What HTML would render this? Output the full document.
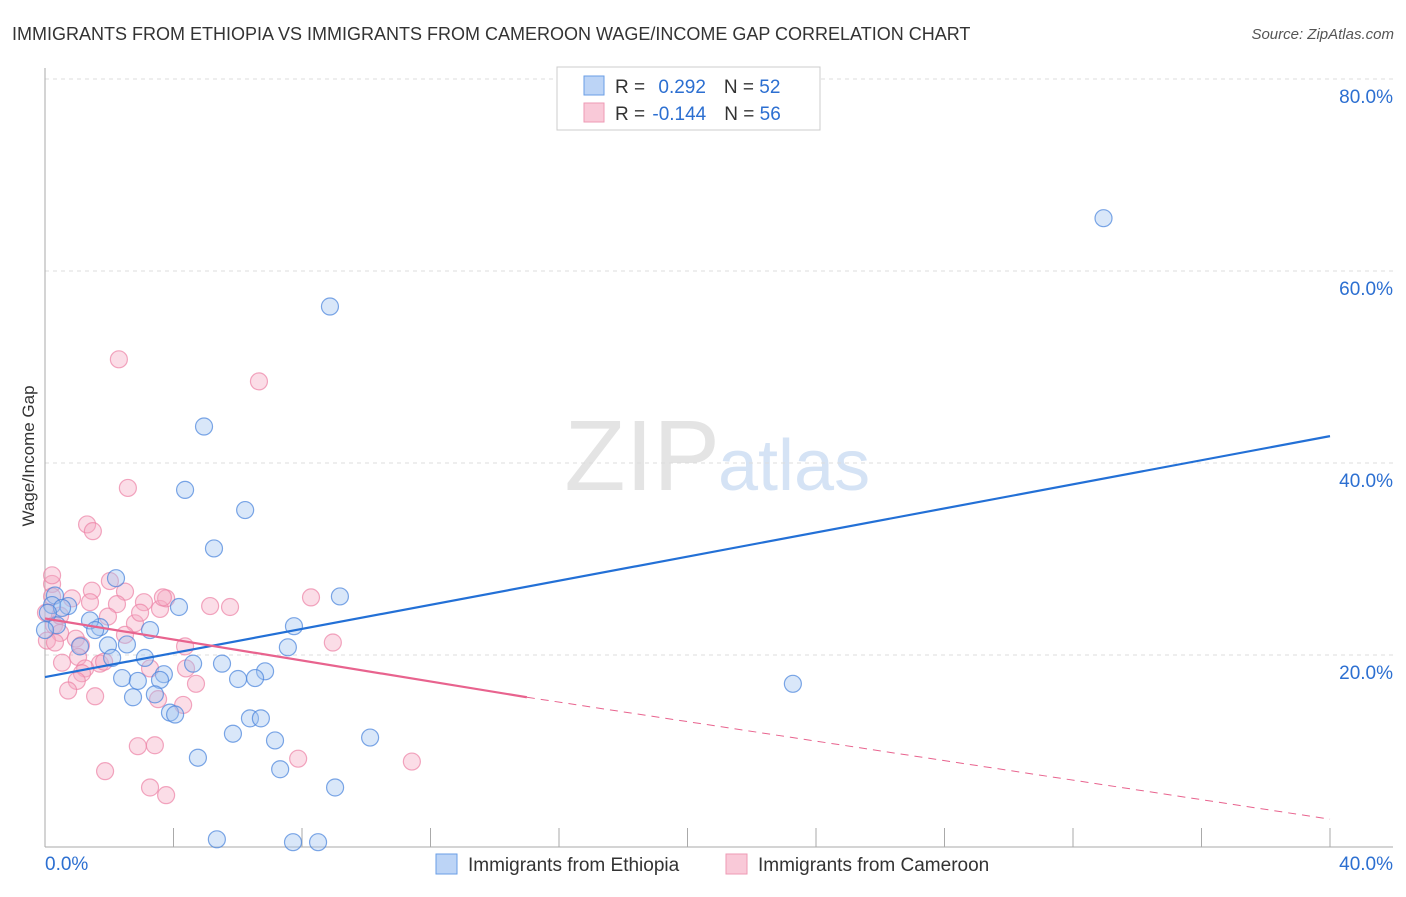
<!DOCTYPE html>
<html><head><meta charset="utf-8"><style>
body{margin:0;background:#fff;font-family:"Liberation Sans",sans-serif;}
svg text{font-family:"Liberation Sans",sans-serif;}
</style></head><body>
<svg width="1406" height="892" viewBox="0 0 1406 892">
<text x="12" y="40" font-size="18" fill="#333">IMMIGRANTS FROM ETHIOPIA VS IMMIGRANTS FROM CAMEROON WAGE/INCOME GAP CORRELATION CHART</text>
<text x="1394" y="39" font-size="15" fill="#555" text-anchor="end" font-style="italic">Source: ZipAtlas.com</text>
<text x="720" y="490" font-size="100" fill="#e4e4e4" text-anchor="end" font-family="Liberation Serif">ZIP</text>
<text x="718" y="490" font-size="72" fill="#d5e3f5">atlas</text>
<g id="grid"></g>
<g id="axes"></g>
<text transform="translate(34,456) rotate(-90)" font-size="17" fill="#333" text-anchor="middle">Wage/Income Gap</text>
<g id="pts"></g>
<g id="lines"></g>
<g>
<rect x="557" y="67" width="263" height="63" fill="#fff" stroke="#ccc"/>
<rect x="584" y="76" width="20" height="19" fill="#bcd4f6" stroke="#6a9ee6"/>
<rect x="584" y="103" width="20" height="19" fill="#f9c9d8" stroke="#ee9ab4"/>
<text x="615" y="93" font-size="19" fill="#333">R = <tspan fill="#2c6fd1" dx="8">0.292</tspan><tspan dx="18" fill="#333">N = </tspan><tspan fill="#2c6fd1">52</tspan></text>
<text x="615" y="120" font-size="19" fill="#333">R = <tspan fill="#2c6fd1" dx="2">-0.144</tspan><tspan dx="18" fill="#333">N = </tspan><tspan fill="#2c6fd1">56</tspan></text>
</g>
<g>
<rect x="436" y="854" width="21" height="20" fill="#bcd4f6" stroke="#6a9ee6"/>
<text x="468" y="871" font-size="19" fill="#333">Immigrants from Ethiopia</text>
<rect x="726" y="854" width="21" height="20" fill="#f9c9d8" stroke="#ee9ab4"/>
<text x="758" y="871" font-size="19" fill="#333">Immigrants from Cameroon</text>
</g>
</svg>
<script>
const yTicks=[20,40,60,80];
const xTickLabels=["0.0%","40.0%"];
const ethX=[32.95,8.87,4.95,4.36,6.23,5.26,9.18,2.21,4.17,7.75,7.56,3.27,1.71,1.40,0.72,0.31,0.22,0.37,1.09,1.96,2.55,2.09,3.11,4.61,5.51,6.85,6.01,6.54,3.70,3.58,2.40,2.89,2.74,3.42,3.89,4.05,6.38,6.72,5.85,7.16,4.76,7.32,10.12,9.03,23.28,5.35,7.72,8.50,0.53,0.09,1.56,0];
const ethY=[65.5,56.3,43.8,37.2,35.1,31.1,26.1,28.0,25.0,23.0,20.8,22.6,22.9,23.6,25.1,26.2,25.2,23.1,20.9,21.0,21.1,19.7,19.7,19.1,19.1,18.3,17.5,17.6,18.0,17.4,17.6,17.3,15.6,15.9,14.0,13.8,13.4,13.4,11.8,11.1,9.3,8.1,11.4,6.2,17.0,0.8,0.5,0.5,24.9,24.4,22.6,22.6];
const camX=[2.30,6.66,2.58,1.31,1.49,0.22,0.22,0.84,1.46,2.02,2.49,2.24,1.40,3.08,3.58,3.77,3.67,5.76,8.28,2.80,1.96,0.03,0.28,0.47,0.96,1.12,2.49,0.47,0.06,4.36,8.96,1.03,1.71,1.84,1.25,3.27,4.39,0.53,1.15,0.99,0.72,1.56,4.70,3.52,4.30,2.89,3.42,1.87,3.27,3.77,7.88,11.42,0.22,5.14,2.96,0.31];
const camY=[50.8,48.5,37.4,33.6,32.9,27.4,26.1,25.9,26.7,27.7,26.6,25.3,25.5,25.5,24.8,25.9,26.0,25.0,26.0,23.3,24.0,24.4,23.1,22.3,21.7,21.0,22.1,24.1,21.5,20.9,21.3,19.8,19.1,19.3,18.6,18.6,18.6,19.2,18.1,17.3,16.3,15.7,17.0,15.4,14.8,10.5,10.6,7.9,6.2,5.4,9.2,8.9,28.3,25.1,24.4,21.3];
const ethLine=[17.7,42.8];
const camLine=[23.8,15.6,2.9];
const NS="http://www.w3.org/2000/svg";
const X=v=>45+v*32.125, Y=v=>847-v*9.6;
function mk(t,p,a){const e=document.createElementNS(NS,t);for(const k in a)e.setAttribute(k,a[k]);p.appendChild(e);return e;}
const grid=document.getElementById('grid'),axes=document.getElementById('axes'),pts=document.getElementById('pts'),lines=document.getElementById('lines');
yTicks.forEach(v=>{
 const l=mk('line',grid,{x1:45,x2:1393,y1:Y(v),y2:Y(v),stroke:'#ddd','stroke-dasharray':'4,4'});
 
 
 const t=mk('text',grid,{x:1393,y:Y(v)+24,'font-size':19,fill:'#2c6fd1','text-anchor':'end'});
 t.textContent=v.toFixed(1)+'%';
 
 
});
mk('line',axes,{x1:45,x2:45,y1:68,y2:847,stroke:'#aaa'});
mk('line',axes,{x1:45,x2:1393,y1:847,y2:847,stroke:'#aaa'});
for(let i=1;i<=10;i++){mk('line',axes,{x1:X(i*4),x2:X(i*4),y1:828,y2:847,stroke:'#aaa'});}
const xl0=mk('text',axes,{x:45,y:870,'font-size':19,fill:'#2c6fd1'});xl0.textContent=xTickLabels[0];


const xl1=mk('text',axes,{x:1393,y:870,'font-size':19,fill:'#2c6fd1','text-anchor':'end'});xl1.textContent=xTickLabels[1];


camX.forEach((x,i)=>{const c=mk('circle',pts,{cx:X(x),cy:Y(camY[i]),r:8.5,fill:'rgba(246,170,196,0.4)',stroke:'rgba(236,130,165,0.7)','stroke-width':1.2});
 
 });
ethX.forEach((x,i)=>{const c=mk('circle',pts,{cx:X(x),cy:Y(ethY[i]),r:8.5,fill:'rgba(160,196,240,0.4)',stroke:'rgba(70,130,220,0.7)','stroke-width':1.2});
 
 });
const bl=mk('line',lines,{x1:X(0),y1:Y(ethLine[0]),x2:X(40),y2:Y(ethLine[1]),stroke:'#2370d6','stroke-width':2.2});


const pl=mk('line',lines,{x1:X(0),y1:Y(camLine[0]),x2:X(15),y2:Y(camLine[1]),stroke:'#e8638e','stroke-width':2.2});


const pd=mk('line',lines,{x1:X(15),y1:Y(camLine[1]),x2:X(40),y2:Y(camLine[2]),stroke:'#e8638e','stroke-width':1,'stroke-dasharray':'8,6'});


</script>
</body></html>
